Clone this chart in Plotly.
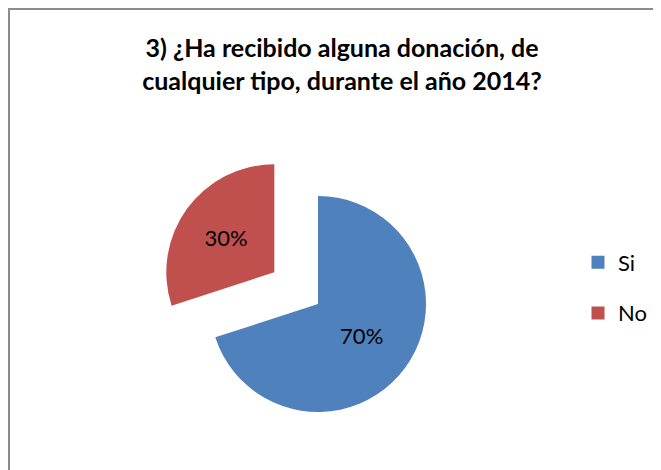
import plotly.graph_objects as go

# Datos
etiquetas = ["Si", "No"]
valores = [70, 30]
colores = ["#4F81BD", "#C0504D"]
separacion = [0, 0.5]

titulo = "3) ¿Ha recibido alguna donación, de<br>cualquier tipo, durante el año 2014?"

# la página tiene 8 px de margen en el body
W, H = 653, 462

fig = go.Figure()

fig.add_trace(
    go.Pie(
        labels=etiquetas,
        values=valores,
        pull=separacion,
        sort=False,
        direction="clockwise",
        rotation=0,
        marker=dict(colors=colores, line=dict(width=0)),
        texttemplate="%{percent:.0%}",
        textposition="inside",
        insidetextorientation="horizontal",
        textfont=dict(family="Lato", size=22, color="black"),
        domain=dict(x=[148 / W, 472 / W], y=[4 / H, 328 / H]),
        hoverinfo="label+percent",
        showlegend=False,
    )
)

# entradas de leyenda (una por categoría)
for nombre, color in zip(etiquetas, colores):
    fig.add_trace(
        go.Scatter(
            x=[None],
            y=[None],
            mode="markers",
            name=nombre,
            legendgroup=nombre,
            marker=dict(symbol="square", size=13, color=color),
            hoverinfo="skip",
        )
    )

fig.update_layout(
    width=W,
    height=H,
    margin=dict(l=0, r=0, t=0, b=0),
    paper_bgcolor="white",
    plot_bgcolor="white",
    xaxis=dict(visible=False),
    yaxis=dict(visible=False),
    title=dict(
        text=titulo,
        x=334 / W,
        xanchor="center",
        y=1 - 49 / H,
        yanchor="top",
        font=dict(family="Lato", size=25, color="black", weight="bold"),
    ),
    legend=dict(
        x=570 / W,
        y=182 / H,
        xanchor="left",
        yanchor="middle",
        font=dict(family="Lato", size=22, color="black"),
        itemsizing="trace",
        tracegroupgap=19,
        bgcolor="rgba(0,0,0,0)",
    ),
    shapes=[
        dict(
            type="rect",
            xref="paper",
            yref="paper",
            x0=1 / W,
            x1=1.05,
            y0=-0.05,
            y1=1 - 1 / H,
            line=dict(color="#8c8c8c", width=2),
            fillcolor="rgba(0,0,0,0)",
            layer="below",
        )
    ],
)

fig.write_html("out.html")
